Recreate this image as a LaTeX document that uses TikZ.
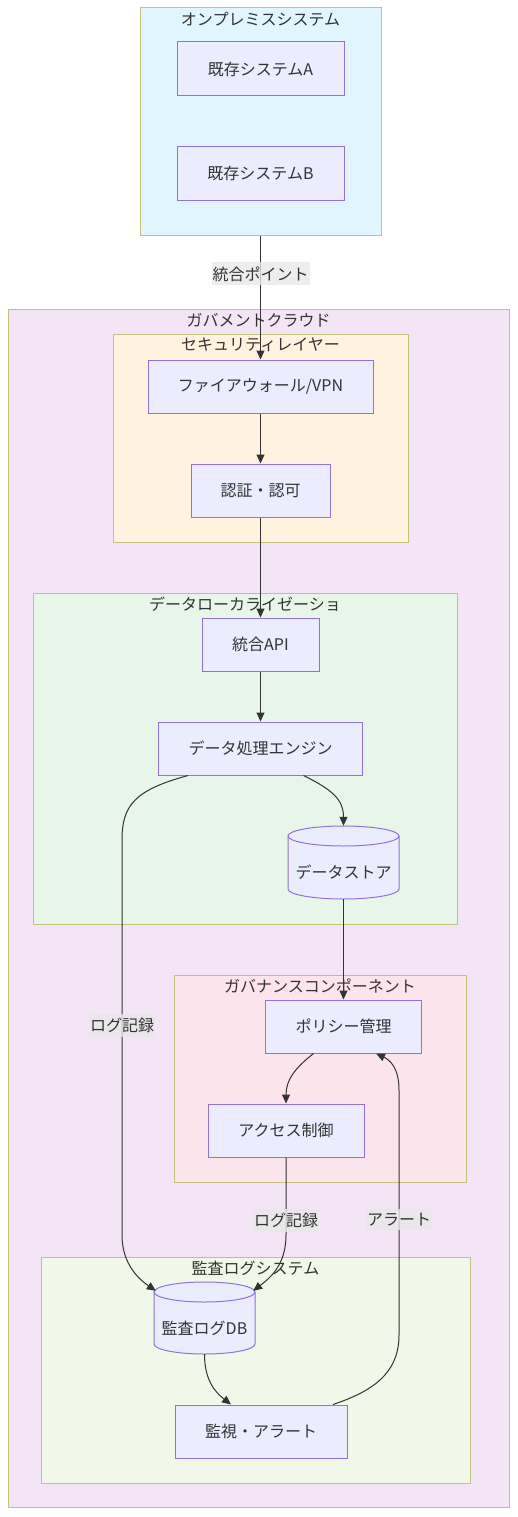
\documentclass[tikz,border=0pt]{standalone}
\usepackage{fontspec}
\setmainfont{Noto Sans CJK JP}
\usetikzlibrary{calc,arrows.meta}

\definecolor{ink}{HTML}{333333}
\definecolor{boxfill}{HTML}{ECECFF}
\definecolor{boxline}{HTML}{9370DB}
\definecolor{grpline}{HTML}{C2C27E}
\definecolor{onpremfill}{HTML}{E1F5FE}
\definecolor{govfill}{HTML}{F3E5F5}
\definecolor{secfill}{HTML}{FFF3E0}
\definecolor{datafill}{HTML}{E8F5E9}
\definecolor{govnfill}{HTML}{FCE4EC}
\definecolor{auditfill}{HTML}{F1F8E9}
\definecolor{lblfill}{HTML}{E8E8E8}

\tikzset{
  grp/.style={draw=grpline, line width=1pt, inner sep=0pt},
  grptitle/.style={text=ink, inner sep=0pt, font=\fontsize{16}{19}\selectfont},
  sysbox/.style={draw=boxline, fill=boxfill, line width=1pt, minimum height=53pt, text=ink, font=\fontsize{16}{19}\selectfont},
  dbbox/.style={inner sep=0pt, text=ink, font=\fontsize{16}{19}\selectfont},
  dbline/.style={draw=boxline, fill=boxfill, line width=1pt},
  flow/.style={draw=ink, line width=1pt, -{Triangle[length=9pt,width=8pt]}},
  edgelbl/.style={fill=lblfill, fill opacity=0.8, text opacity=1, text=ink, inner xsep=1pt, inner ysep=4pt, font=\fontsize{16}{19}\selectfont}
}

\begin{document}
\begin{tikzpicture}[x=1pt,y=1pt]
\useasboundingbox (0,0) rectangle (518,-1517);

% groups
\node[grp, fill=onpremfill, minimum width=241pt, minimum height=227pt] (onprem) at (260.5,-121.5) {};
\node[grptitle] (onpremtitle) at ($(onprem.north)+(0,-11.5)$) {オンプレミスシステム};

\node[grp, fill=govfill, minimum width=501pt, minimum height=1198pt] (gov) at (258.5,-908) {};
\node[grptitle] (govtitle) at ($(gov.north)+(0,-11.5)$) {ガバメントクラウド};

\node[grp, fill=secfill, minimum width=295pt, minimum height=208pt] (sec) at (260.5,-438) {};
\node[grptitle] (sectitle) at ($(sec.north)+(0,-11.5)$) {セキュリティレイヤー};

\node[grp, fill=datafill, minimum width=424pt, minimum height=331pt] (dataloc) at (245,-758.5) {};
\node[grptitle] (dataloctitle) at ($(dataloc.north)+(0,-11.5)$) {データローカライゼーショ};

\node[grp, fill=govnfill, minimum width=292pt, minimum height=207pt] (govn) at (320,-1078.5) {};
\node[grptitle] (govntitle) at ($(govn.north)+(0,-11.5)$) {ガバナンスコンポーネント};

\node[grp, fill=auditfill, minimum width=429pt, minimum height=226pt] (audit) at (255.5,-1370) {};
\node[grptitle] (audittitle) at ($(audit.north)+(0,-11.5)$) {監査ログシステム};

% boxes
\node[sysbox, minimum width=167pt, minimum height=54pt] (sysA) at (260.5,-69) {既存システムA};
\node[sysbox, minimum width=167pt, minimum height=54pt] (sysB) at (260.5,-173.5) {既存システムB};
\node[sysbox, minimum width=225pt] (fw) at (260.5,-386.5) {ファイアウォール/VPN};
\node[sysbox, minimum width=139pt] (auth) at (260.5,-490.5) {認証・認可};
\node[sysbox, minimum width=117pt] (api) at (260.5,-644.5) {統合API};
\node[sysbox, minimum width=204pt] (engine) at (260.5,-748.5) {データ処理エンジン};
\node[sysbox, minimum width=156pt] (policy) at (343.5,-1026.5) {ポリシー管理};
\node[sysbox, minimum width=156pt] (access) at (286,-1130.5) {アクセス制御};
\node[sysbox, minimum width=172pt] (monitor) at (261,-1431.5) {監視・アラート};

% cylinders
\filldraw[dbline] (288,-836) -- (288,-889) arc[start angle=180,end angle=360,x radius=55.5pt,y radius=10pt] -- (399,-836) arc[start angle=0,end angle=180,x radius=55.5pt,y radius=10pt] -- cycle;
\draw[dbline, fill=none] (288,-836) arc[start angle=180,end angle=360,x radius=55.5pt,y radius=10pt];
\node[dbbox, minimum width=111pt, minimum height=73pt, label={[dbbox, yshift=-10pt]center:データストア}] (store) at (343.5,-862.5) {};

\filldraw[dbline] (154,-1292) -- (154,-1344) arc[start angle=180,end angle=360,x radius=50.5pt,y radius=10pt] -- (255,-1292) arc[start angle=0,end angle=180,x radius=50.5pt,y radius=10pt] -- cycle;
\draw[dbline, fill=none] (154,-1292) arc[start angle=180,end angle=360,x radius=50.5pt,y radius=10pt];
\node[dbbox, minimum width=101pt, minimum height=72pt, label={[dbbox, yshift=-10pt]center:監査ログDB}] (logdb) at (204.5,-1318) {};

% connectors
\draw[flow] (onprem.south) -- node[edgelbl, pos=0.31] (lblpoint) {統合ポイント} (fw.north);
\draw[flow] (fw.south) -- (auth.north);
\draw[flow] (auth.south) -- (api.north);
\draw[flow] (api.south) -- (engine.north);
\draw[flow] ($(engine.south)+(43,0)$) .. controls (333,-790) and (343.5,-800) .. (store.north);
\draw[flow] ($(engine.south)+(-72.5,0)$) .. controls (135,-790) and (122,-805) .. (122,-840) -- node[edgelbl, pos=0.47] (lbllogA) {ログ記録} (122,-1235) .. controls (122,-1265) and (140,-1280) .. ($(logdb.north west)+(2,-9)$);
\draw[flow] (store.south) -- (policy.north);
\draw[flow] ($(policy.south)+(-30,0)$) .. controls (295,-1068) and (286,-1080) .. (access.north);
\draw[flow] (access.south) -- node[edgelbl, pos=0.81] (lbllogB) {ログ記録} (286,-1235) .. controls (286,-1265) and (270,-1278) .. ($(logdb.north east)+(-2,-9)$);
\draw[flow] (logdb.south) .. controls (204.5,-1380) and (215,-1392) .. ($(monitor.north)+(-30,0)$);
\draw[flow] ($(monitor.north)+(72,0)$) .. controls (370,-1392) and (399,-1375) .. (399,-1335) -- node[edgelbl, pos=0.47] (lblalert) {アラート} (399,-1090) .. controls (399,-1068) and (390,-1060) .. ($(policy.south)+(32.5,0)$);

\end{tikzpicture}
\end{document}
